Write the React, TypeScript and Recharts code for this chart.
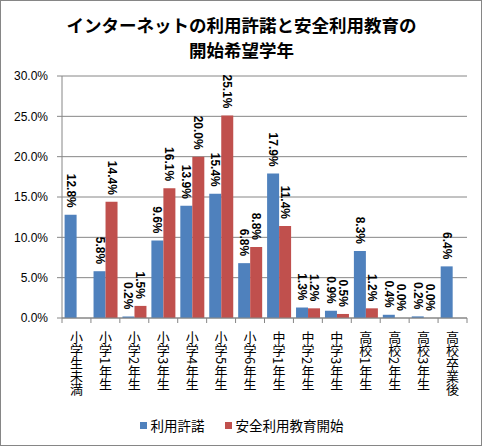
import React from 'react';
import { BarChart, Bar, XAxis, YAxis, CartesianGrid, Legend, LabelList } from 'recharts';

const categories = ['小学生未満', '小学1年生', '小学2年生', '小学3年生', '小学4年生', '小学5年生', '小学6年生', '中学1年生', '中学2年生', '中学3年生', '高校1年生', '高校2年生', '高校3年生', '高校卒業後'];
const permitValues: (number | null)[] = [12.8, 5.8, 0.2, 9.6, 13.9, 15.4, 6.8, 17.9, 1.3, 0.9, 8.3, 0.4, 0.2, 6.4];
const educationValues: (number | null)[] = [null, 14.4, 1.5, 16.1, 20.0, 25.1, 8.8, 11.4, 1.2, 0.5, 1.2, 0.0, 0.0, null];
const yTicks = [0, 5, 10, 15, 20, 25, 30];
const seriesNames = ['利用許諾', '安全利用教育開始'];
const seriesColors = ['#4F81BD', '#C0504D'];
const titleLines = ['インターネットの利用許諾と安全利用教育の', '開始希望学年'];

const data = categories.map((c, i) => ({ category: c, permit: permitValues[i], education: educationValues[i] }));

const FONT = "'Liberation Sans', 'Noto Sans CJK JP', sans-serif";
const CJK = "'Noto Sans CJK JP', sans-serif";
const GRAY = '#868686';

const renderLabel = (cx: number, top: number, value: number, key?: string) => (
  <text
    key={key}
    x={cx}
    y={top}
    transform={`rotate(90 ${cx} ${top})`}
    textAnchor="end"
    dominantBaseline="central"
    fontSize={12}
    fontWeight="bold"
    fill="#000"
    fontFamily={FONT}
  >
    {value.toFixed(1)}%
  </text>
);

// labels for the first series; also places zero-valued second-series labels
// (Recharts draws no rectangle for a zero-height bar) beside the blue bar, at the axis baseline.
const PermitLabel = (props: any) => {
  const { x, y, width, height, value, index } = props;
  const nx = Number(x);
  const ny = Number(y);
  const w = Number(width);
  const h = Number(height) || 0;
  const out: any[] = [];
  if (value !== null && value !== undefined) out.push(renderLabel(nx + w / 2, ny - 7, Number(value), 'a'));
  const ev = educationValues[index];
  if (ev === 0) out.push(renderLabel(nx + w * 1.5, ny + h - 7, 0, 'b'));
  return <g>{out}</g>;
};

const EducationLabel = (props: any) => {
  const { x, y, width, value } = props;
  if (value === null || value === undefined || Number(value) === 0) return null;
  return renderLabel(Number(x) + Number(width) / 2, Number(y) - 7, Number(value));
};

const CategoryTick = (props: any) => {
  const { x, y, payload, index, visibleTicksCount } = props;
  const half = payload && typeof payload.offset === 'number' ? payload.offset : 405 / 14 / 2;
  const left = x - half;
  return (
    <g>
      <line x1={left} x2={left} y1={y} y2={y + 5} stroke={GRAY} />
      {index === visibleTicksCount - 1 && <line x1={x + half} x2={x + half} y1={y} y2={y + 5} stroke={GRAY} />}
      <text
        x={x}
        y={y + 13}
        style={{ writingMode: 'vertical-rl' as any }}
        fontSize={13}
        fill="#000"
        fontFamily={CJK}
        textAnchor="start"
      >
        {payload.value}
      </text>
    </g>
  );
};

const LegendContent = () => (
  <div style={{ display: 'flex', justifyContent: 'center', alignItems: 'center', height: 20, fontFamily: CJK, fontSize: 13.5, color: '#000' }}>
    {seriesNames.map((n, i) => (
      <div key={n} style={{ display: 'flex', alignItems: 'center', marginRight: i === 0 ? 20 : 0 }}>
        <span style={{ display: 'inline-block', width: 7, height: 7, background: seriesColors[i], marginRight: 4 }} />
        <span>{n}</span>
      </div>
    ))}
  </div>
);

export default function App() {
  return (
    <div style={{ position: 'absolute', left: 0, top: 0, width: 483, height: 447, background: '#fff' }}>
      <div style={{ position: 'absolute', left: 0, top: 0, width: 480, height: 444, border: `1px solid ${GRAY}` }} />
      <div
        style={{
          position: 'absolute',
          left: 0,
          top: 12,
          width: 483,
          textAlign: 'center',
          fontFamily: CJK,
          fontWeight: 'bold',
          fontSize: 17.5,
          lineHeight: '25px',
          color: '#000',
        }}
      >
        {titleLines.map((t) => (
          <div key={t}>{t}</div>
        ))}
      </div>
      <div style={{ position: 'absolute', left: 0, top: 0 }}>
        <BarChart
          width={483}
          height={447}
          data={data}
          margin={{ top: 76, right: 16, left: 0, bottom: 14 }}
          barCategoryGap="9%"
          barGap={0}
        >
          <CartesianGrid vertical={false} stroke={GRAY} />
          <XAxis
            dataKey="category"
            interval={0}
            height={95}
            tickLine={false}
            tickSize={0}
            tickMargin={0}
            axisLine={{ stroke: GRAY }}
            tick={<CategoryTick />}
          />
          <YAxis
            width={62}
            domain={[0, 30]}
            ticks={yTicks}
            tickFormatter={(v: number) => `${v.toFixed(1)}%`}
            tickSize={5}
            tickMargin={9}
            tickLine={{ stroke: GRAY }}
            axisLine={{ stroke: GRAY }}
            tick={{ fontSize: 12, fill: '#000', fontFamily: FONT }}
            interval={0}
          />
          <Legend
            verticalAlign="bottom"
            height={20}
            content={<LegendContent />}
            wrapperStyle={{ left: 0, width: 483, top: 415 }}
          />
          <Bar dataKey="permit" name={seriesNames[0]} fill={seriesColors[0]} isAnimationActive={false}>
            <LabelList dataKey="permit" content={<PermitLabel />} />
          </Bar>
          <Bar dataKey="education" name={seriesNames[1]} fill={seriesColors[1]} isAnimationActive={false}>
            <LabelList dataKey="education" content={<EducationLabel />} />
          </Bar>
        </BarChart>
      </div>
    </div>
  );
}
